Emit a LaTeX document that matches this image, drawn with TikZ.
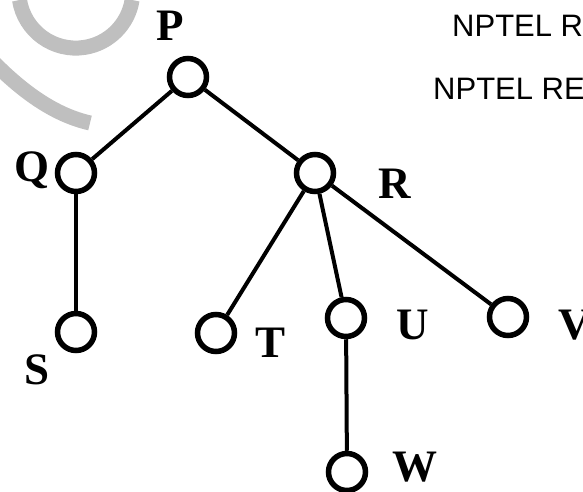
\documentclass[tikz,border=0pt]{standalone}
\usepackage{fontspec}
\setmainfont{Liberation Serif}
\newfontfamily\nptelfont{Liberation Sans}
\begin{document}
\begin{tikzpicture}[x=1pt,y=-1pt,
    vertex/.style={circle, draw=black, line width=5.5pt, minimum size=37pt, inner sep=0pt},
    edge/.style={black, line width=4pt},
    lbl/.style={font=\fontsize{45}{48}\selectfont\bfseries, inner sep=0pt},
    wmtext/.style={font=\nptelfont\fontsize{31}{34}\selectfont, anchor=base west, inner sep=0pt}]
  \useasboundingbox (0,0) rectangle (583,492);
  \clip (0,0) rectangle (583,492);
  % watermark
  \draw[black!25, line width=15pt] (19.5,0) arc[start angle=171, end angle=9, radius=57];
  \draw[black!25, line width=15pt] (-20,48) .. controls (20,92) and (55,115) .. (90,123);
  \node[wmtext] (nptelA) at (452,37) {NPTEL R};
  \node[wmtext] (nptelB) at (433,100) {NPTEL RE};
  % tree
  \foreach \n/\x/\y in {P/188/77, Q/76/173, R/315/173, S/76/332, T/216/333,
                        U/346/318, V/508/317, W/347/472} {
    \node[vertex] (\n) at (\x,\y) {};
  }
  \foreach \a/\b in {P/Q, P/R, Q/S, R/T, R/U, R/V, U/W} {
    \draw[edge] (\a) -- (\b);
  }
  \foreach \n/\x/\y in {P/170/26, Q/32/170, R/395/184, S/37/370, T/271/343,
                        U/413/325, V/575/325, W/415/467} {
    \node[lbl] (lab\n) at (\x,\y) {\n};
  }
\end{tikzpicture}
\end{document}
